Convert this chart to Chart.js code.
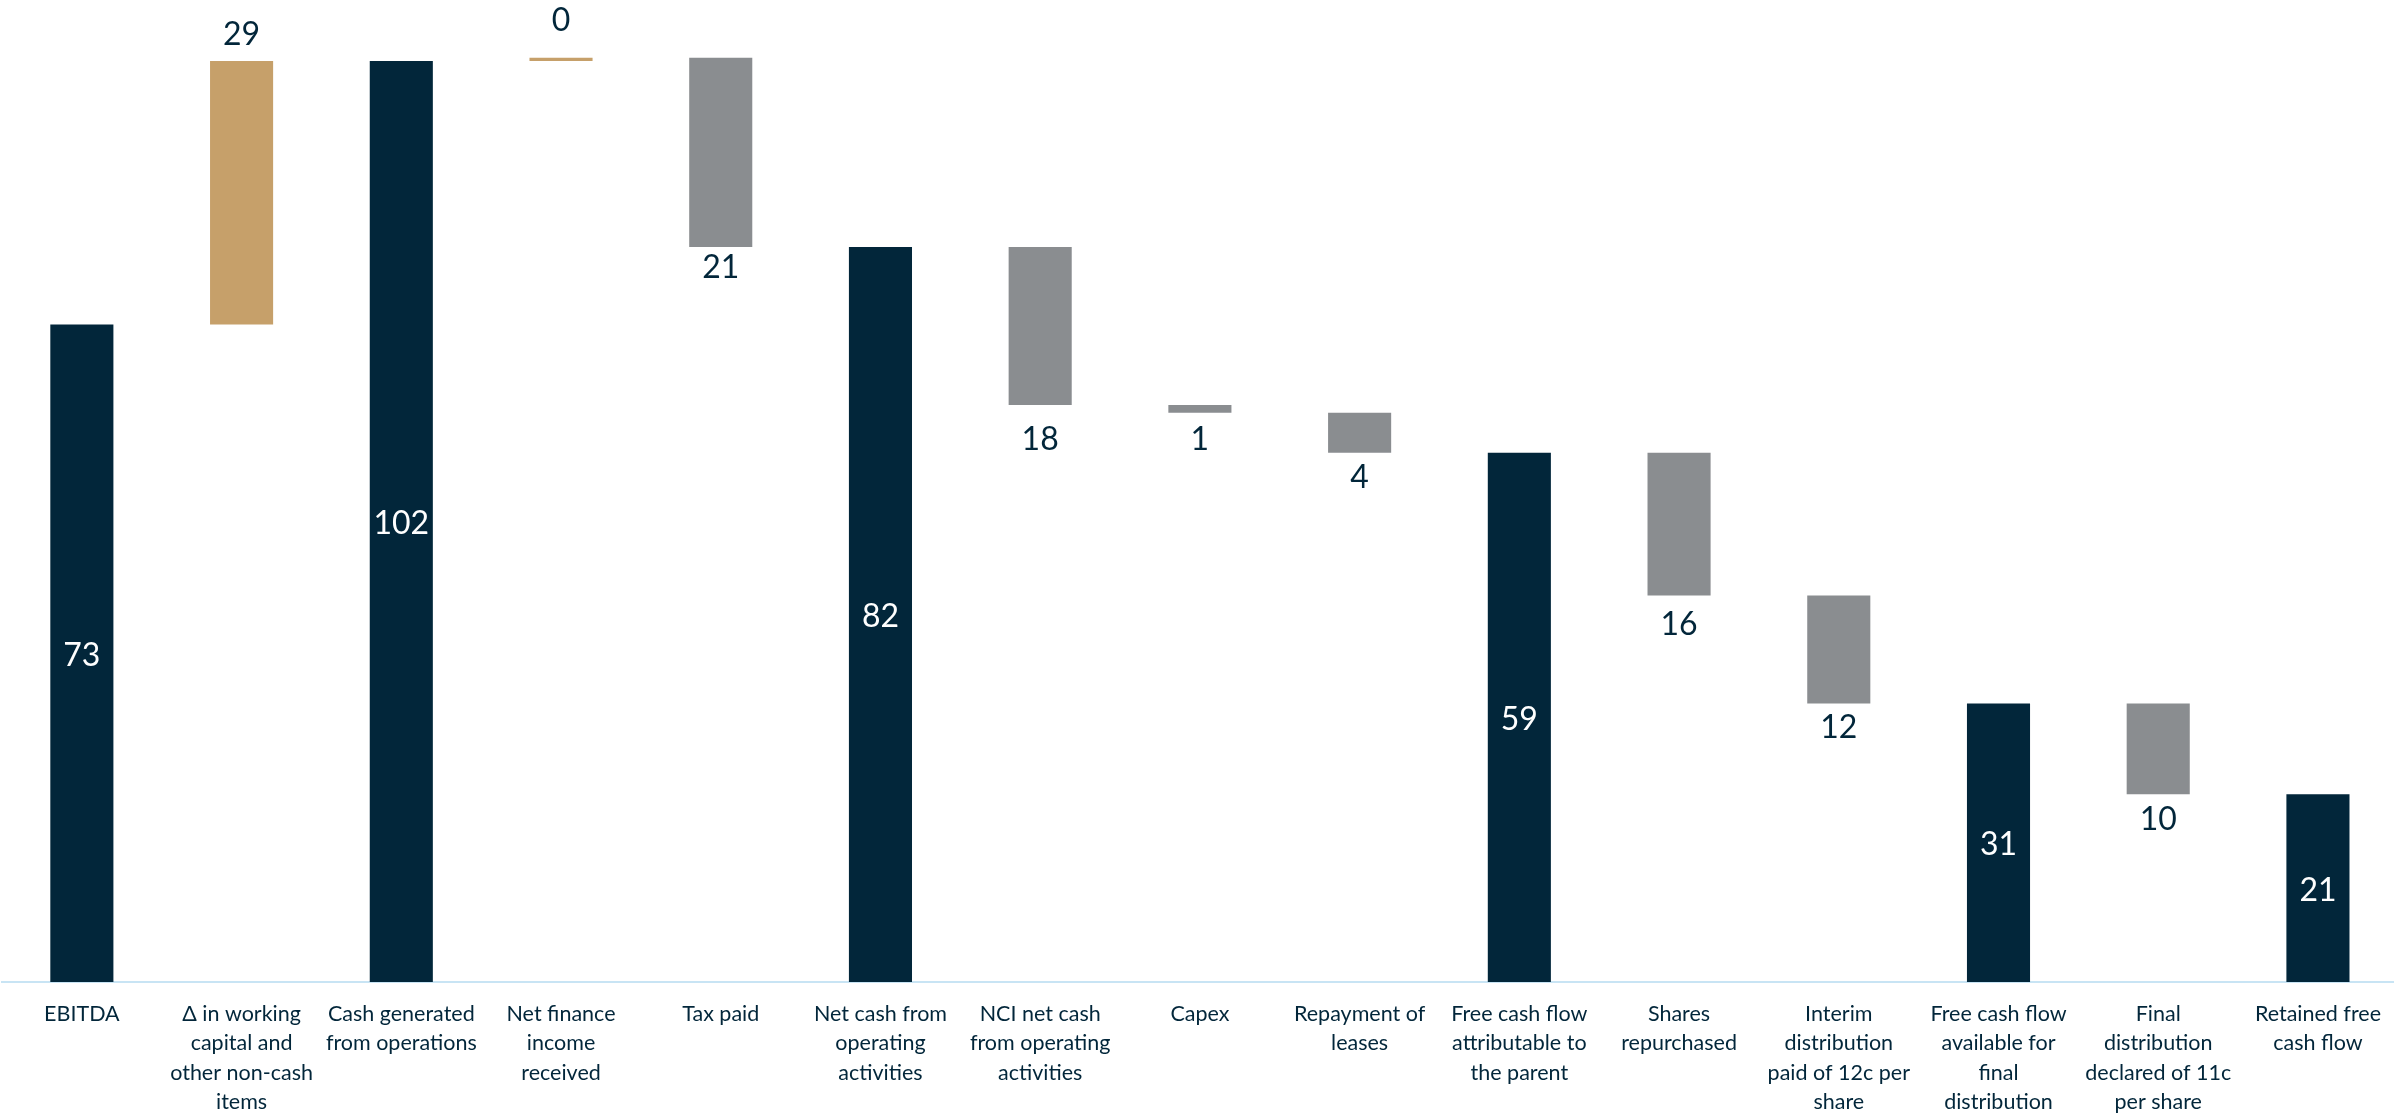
<!DOCTYPE html>
<html>
<head>
<meta charset="utf-8">
<script src="https://cdn.jsdelivr.net/npm/chart.js@4/dist/chart.umd.min.js"></script>
<style>
  html, body { margin: 0; padding: 0; background: #ffffff; overflow: hidden; }
  #wrap { width: 2398px; height: 1115px; position: relative; }
</style>
</head>
<body>
<div id="wrap"><canvas id="c" width="2398" height="1115"></canvas></div>
<script>
const categories = [
  ['EBITDA'],
  ['\u0394 in working', 'capital and', 'other non-cash', 'items'],
  ['Cash generated', 'from operations'],
  ['Net finance', 'income', 'received'],
  ['Tax paid'],
  ['Net cash from', 'operating', 'activities'],
  ['NCI net cash', 'from operating', 'activities'],
  ['Capex'],
  ['Repayment of', 'leases'],
  ['Free cash flow', 'attributable to', 'the parent'],
  ['Shares', 'repurchased'],
  ['Interim', 'distribution', 'paid of 12c per', 'share'],
  ['Free cash flow', 'available for', 'final', 'distribution'],
  ['Final', 'distribution', 'declared of 11c', 'per share'],
  ['Retained free', 'cash flow']
];
const barStart = [0, 72.8, 0, 102.0, 102.35, 0, 81.4, 63.9, 63.05, 0, 58.6, 42.8, 0, 30.85, 0];
const barEnd   = [72.8, 102.0, 102.0, 102.35, 81.4, 81.4, 63.9, 63.05, 58.6, 58.6, 42.8, 30.85, 30.85, 20.8, 20.8];
const shownValues = [73, 29, 102, 0, 21, 82, 18, 1, 4, 59, 16, 12, 31, 10, 21];
const barKinds = ['total', 'increase', 'total', 'increase', 'decrease', 'total', 'decrease', 'decrease', 'decrease', 'total', 'decrease', 'decrease', 'total', 'decrease', 'total'];

// style: gap in px between bar edge and value label (as placed in the original slide)
const labelGap = [0, 16, 0, 27, 8, 0, 22, 14, 12, 0, 16, 12, 0, 13, 0];

const kindColors = { total: '#02263a', increase: '#c6a06a', decrease: '#8a8d90' };
const NAVY = '#02263a';
const LABEL_FONT = 'Lato, "Open Sans", sans-serif';

const floating = barStart.map((s, i) => [s, barEnd[i]]);

const valueLabels = {
  id: 'valueLabels',
  afterDatasetsDraw(chart) {
    const ctx = chart.ctx;
    const meta = chart.getDatasetMeta(0);
    ctx.save();
    ctx.font = '32px ' + LABEL_FONT;
    ctx.textAlign = 'center';
    ctx.textBaseline = 'alphabetic';
    const digitH = 23;
    meta.data.forEach((el, i) => {
      const top = Math.min(el.y, el.base);
      const bottom = Math.max(el.y, el.base);
      const txt = String(shownValues[i]);
      const kind = barKinds[i];
      let y;
      if (kind === 'total') {
        ctx.fillStyle = '#ffffff';
        y = (top + bottom) / 2 + digitH / 2 + 1;
      } else if (kind === 'increase') {
        ctx.fillStyle = NAVY;
        y = top - labelGap[i];
      } else {
        ctx.fillStyle = NAVY;
        y = bottom + labelGap[i] + digitH;
      }
      ctx.fillText(txt, el.x, y);
    });
    ctx.restore();
  }
};

new Chart(document.getElementById('c'), {
  type: 'bar',
  data: {
    labels: categories,
    datasets: [{
      data: floating,
      backgroundColor: barKinds.map(k => kindColors[k]),
      borderWidth: 0,
      barPercentage: 0.395,
      categoryPercentage: 1.0
    }]
  },
  options: {
    responsive: false,
    animation: false,
    devicePixelRatio: 1,
    layout: { padding: { top: 0, left: 2, right: 0, bottom: 0 } },
    plugins: {
      legend: { display: false },
      tooltip: { enabled: false },
      title: { display: false }
    },
    scales: {
      x: {
        grid: { display: false, drawTicks: false },
        border: { display: true, color: '#c8e4f4', width: 2 },
        ticks: {
          color: NAVY,
          font: { family: LABEL_FONT, size: 21.5, lineHeight: 1.37 },
          padding: 17,
          maxRotation: 0,
          autoSkip: false
        },
        afterFit(scale) { scale.height = 133; }
      },
      y: {
        display: false,
        min: 0,
        max: 108.75
      }
    }
  },
  plugins: [valueLabels]
});
</script>
</body>
</html>
